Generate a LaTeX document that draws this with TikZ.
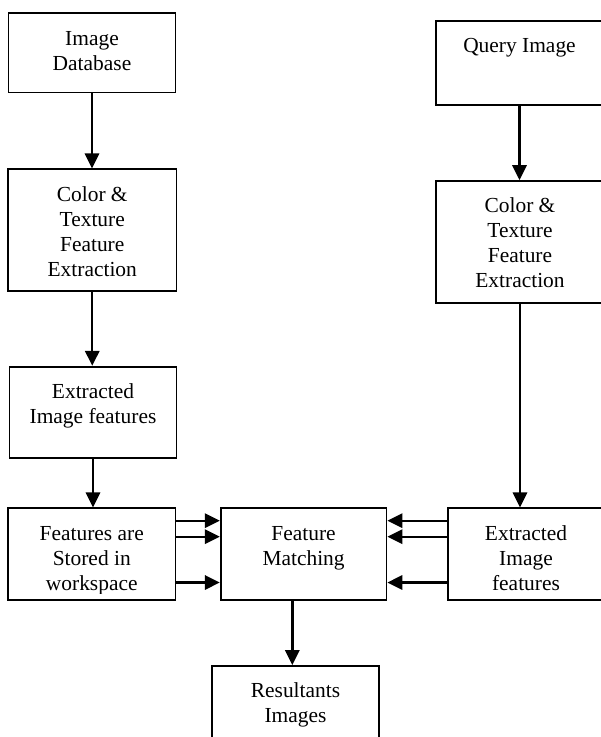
\documentclass[tikz,border=0pt]{standalone}
\usepackage{fontspec}
\setmainfont{Liberation Serif}
\usetikzlibrary{arrows.meta,fit}
\begin{document}
\begin{tikzpicture}[x=0.56pt,y=-0.56pt,
  box/.style={draw,line width=1pt,inner sep=0pt,rectangle},
  txt/.style={anchor=north,inner sep=0pt,align=center,font=\fontsize{12}{14}\selectfont},
  arr/.style={line width=1.35pt,-{Triangle[length=8.4pt,width=8pt]}}]
\clip (0,0) rectangle (601,737);
% boxes
\node[box,fit={(8.5,13.3) (175.5,92.5)}] (b1) {};
\node[box,fit={(8,169.3) (176.5,290.7)}] (b2) {};
\node[box,fit={(9.5,366.7) (176.5,458.3)}] (b3) {};
\node[box,fit={(8,508.3) (175.5,600)}] (b4) {};
\node[box,fit={(220.7,508.3) (386.5,600)}] (m) {};
\node[box,fit={(436,20.7) (603,105)}] (q) {};
\node[box,fit={(436,181) (604,302.7)}] (rc) {};
\node[box,fit={(448,508.3) (604,600)}] (r6) {};
\node[box,fit={(212,666) (379,760)}] (res) {};
% texts
\node[txt] (t1) at ([yshift=-8.4pt]b1.north) {\strut Image\\Database};
\node[txt] (t2) at ([yshift=-8.4pt]b2.north) {\strut Color \&\\Texture\\Feature\\Extraction};
\node[txt] (t3) at ([yshift=-8.4pt]b3.north) {\strut Extracted\\Image features};
\begin{scope}
\clip (b4.north west) rectangle ([yshift=4.3pt]b4.south east);
\node[txt] (t4) at ([yshift=-8.4pt]b4.north) {\strut Features are\\Stored in\\workspace};
\end{scope}
\node[txt] (tm) at ([yshift=-8.4pt]m.north) {\strut Feature\\Matching};
\node[txt] (tq) at ([yshift=-8.4pt]q.north) {\strut Query Image};
\node[txt] (trc) at ([yshift=-8.4pt]rc.north) {\strut Color \&\\Texture\\Feature\\Extraction};
\node[txt] (tr6) at ([yshift=-8.4pt]r6.north) {\strut Extracted\\Image\\features};
\node[txt] (tres) at ([yshift=-8.4pt]res.north) {\strut Resultants\\Images};
% connectors
\coordinate (h1) at (0,520.7);
\coordinate (h2) at (0,536.7);
\coordinate (h3) at (0,582.5);
\coordinate (v) at (292.3,0);
\draw[arr] (b1.south) -- (b1.south |- b2.north);
\draw[arr] (b2.south) -- (b2.south |- b3.north);
\draw[arr] (b3.south) -- (b3.south |- b4.north);
\draw[arr] (q.south) -- (q.south |- rc.north);
\draw[arr] (rc.south) -- (rc.south |- r6.north);
\draw[arr] (b4.east |- h1) -- (m.west |- h1);
\draw[arr] (b4.east |- h2) -- (m.west |- h2);
\draw[arr] (b4.east |- h3) -- (m.west |- h3);
\draw[arr] (r6.west |- h1) -- (m.east |- h1);
\draw[arr] (r6.west |- h2) -- (m.east |- h2);
\draw[arr] (r6.west |- h3) -- (m.east |- h3);
\draw[arr] (m.south -| v) -- (v |- res.north);
\end{tikzpicture}
\end{document}
